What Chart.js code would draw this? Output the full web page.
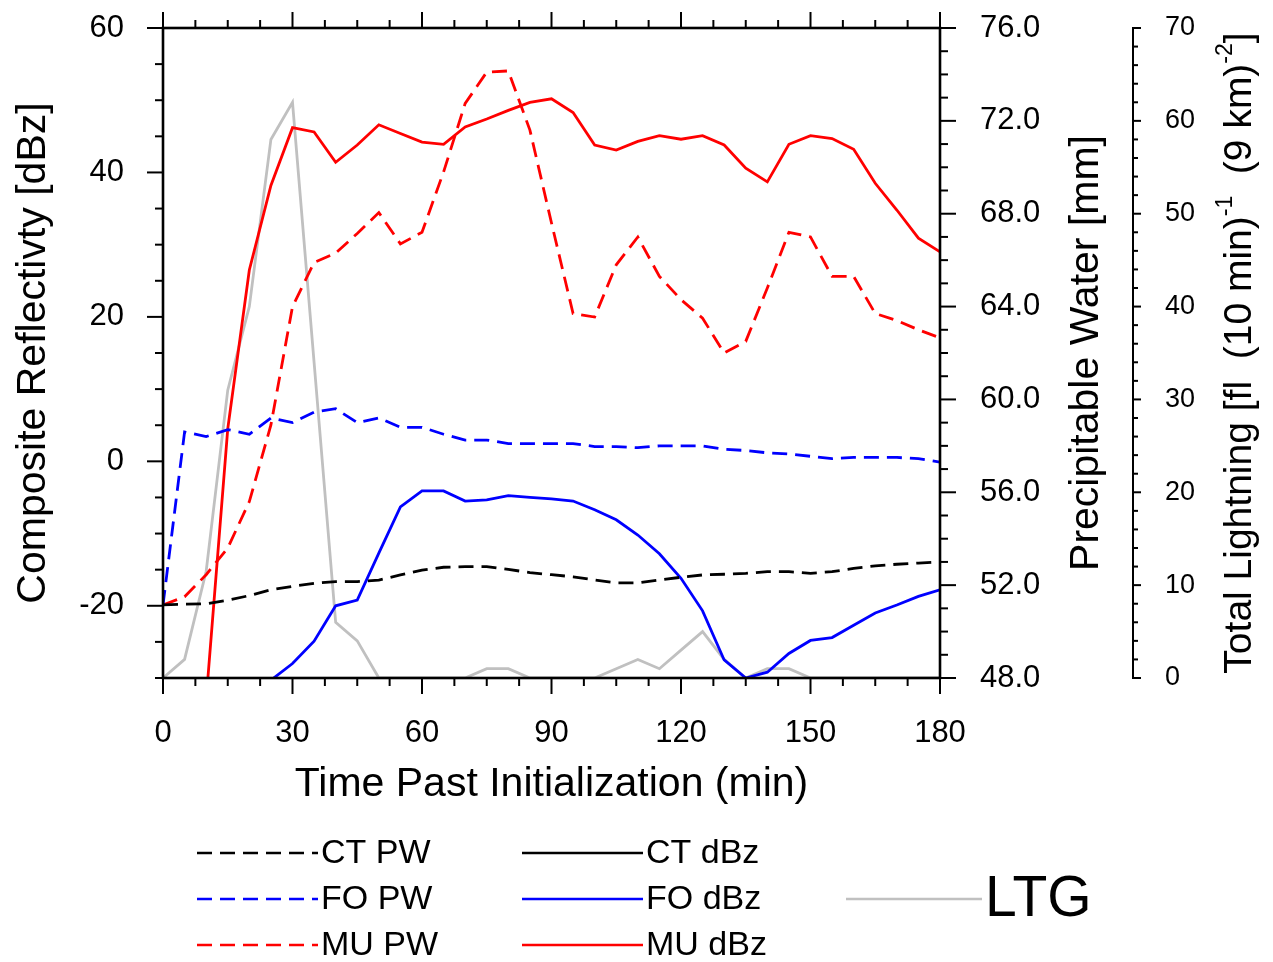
<!DOCTYPE html>
<html lang="en">

<head>
  <meta charset="utf-8">
  <title>Composite reflectivity, precipitable water and lightning</title>
  <script src="https://cdn.jsdelivr.net/npm/chart.js"></script>
  <style>
    body { margin: 0; background: #fff; }
    #wrap { width: 1273px; height: 962px; }
  </style>

  <script type="text/javascript">
    // minutes past initialization, every 5 min
    const times = [0, 5, 10, 15, 20, 25, 30, 35, 40, 45, 50, 55, 60, 65, 70, 75, 80, 85, 90,
      95, 100, 105, 110, 115, 120, 125, 130, 135, 140, 145, 150, 155, 160, 165, 170, 175, 180];

    // precipitable water [mm] (right axis)
    const ctPw = [51.15, 51.18, 51.2, 51.35, 51.55, 51.8, 51.95, 52.08, 52.15, 52.15, 52.22, 52.44, 52.65,
      52.77, 52.8, 52.8, 52.68, 52.54, 52.45, 52.36, 52.22, 52.1, 52.1, 52.22, 52.34, 52.44, 52.47,
      52.51, 52.58, 52.58, 52.51, 52.58, 52.72, 52.83, 52.9, 52.95, 53.0];
    const foPw = [51.15, 58.6, 58.4, 58.7, 58.5, 59.2, 59.0, 59.45, 59.6, 59.0, 59.2, 58.8, 58.8,
      58.5, 58.25, 58.25, 58.1, 58.1, 58.1, 58.1, 57.97, 57.97, 57.92, 58.0, 58.0, 58.0, 57.85,
      57.8, 57.7, 57.65, 57.55, 57.45, 57.5, 57.5, 57.5, 57.45, 57.3];
    const muPw = [51.15, 51.5, 52.45, 53.6, 55.6, 58.9, 64.0, 65.9, 66.3, 67.15, 68.05, 66.7, 67.2,
      69.8, 72.75, 74.1, 74.15, 71.6, 67.6, 63.7, 63.55, 65.8, 67.0, 65.3, 64.3, 63.5, 62.0,
      62.5, 64.8, 67.2, 67.0, 65.3, 65.3, 63.7, 63.4, 63.0, 62.65];

    // composite reflectivity [dBz] (left axis), null = below the plot
    const ctDbz = []; // stays under -30 dBz the whole run
    const foDbz = [null, null, null, null, null, -30.3, -28.0, -24.9, -20.0, -19.2, -12.7, -6.3, -4.1,
      -4.1, -5.5, -5.35, -4.75, -5.0, -5.2, -5.5, -6.7, -8.1, -10.2, -12.8, -16.2, -20.7, -27.5,
      -30.0, -29.2, -26.6, -24.8, -24.4, -22.7, -21.0, -19.9, -18.7, -17.8];
    const muDbz = [null, null, -33.0, 4.5, 26.5, 38.2, 46.2, 45.6, 41.4, 43.8, 46.6, 45.4, 44.2,
      43.9, 46.3, 47.4, 48.6, 49.7, 50.2, 48.3, 43.8, 43.1, 44.3, 45.1, 44.6, 45.1, 43.8,
      40.6, 38.7, 43.9, 45.1, 44.7, 43.2, 38.5, 34.8, 30.9, 29.0];

    // total lightning [fl (10 min)^-1 (9 km)^-2] (outer right axis)
    const ltg = [0, 2, 11.5, 31, 40, 58, 62, 34, 6, 4, 0, 0, 0, 0, 0, 1, 1, 0, 0, 0, 0, 1, 2, 1, 3, 5, 2,
      0, 1, 1, 0, 0, 0, 0, 0, 0, 0];

    // tick labels
    const timeTicks = [0, 30, 60, 90, 120, 150, 180];
    const dbzTicks = [-20, 0, 20, 40, 60];
    const pwTicks = [48, 52, 56, 60, 64, 68, 72, 76];
    const ltgTicks = [0, 10, 20, 30, 40, 50, 60, 70];

    const FONT = "'Liberation Sans', Arial, Helvetica, sans-serif";
    const DASH = [15, 8];

    function pts(arr) {
      return arr.map((v, i) => ({ x: times[i], y: v }));
    }

    function series(label, arr, color, dashed, axis) {
      return {
        label: label,
        data: pts(arr),
        borderColor: color,
        backgroundColor: color,
        borderWidth: 2.8,
        borderDash: dashed ? DASH : [],
        pointRadius: 0,
        tension: 0,
        yAxisID: axis,
        fill: false
      };
    }

    function fixedTicks(list) {
      return function (scale) {
        scale.ticks = list.map(v => ({ value: v }));
      };
    }

    // fixed box size, and no extra padding for the end labels
    function boxSize(w, h) {
      return function (s) {
        if (w) s.width = w;
        if (h) s.height = h;
        s.paddingTop = 0; s.paddingBottom = 0;
        s.paddingLeft = 0; s.paddingRight = 0;
      };
    }

    // frame, minor/major tick marks, third axis line, titles and legend
    const decor = {
      id: 'decor',
      afterDatasetsDraw(chart) {
        const { ctx, chartArea: a, scales } = chart;
        const sx = scales.x, sy = scales.y, spw = scales.yPW, sl = scales.yL;
        ctx.save();
        ctx.strokeStyle = '#000';
        ctx.lineCap = 'butt';
        const line = (x1, y1, x2, y2) => {
          ctx.beginPath(); ctx.moveTo(x1, y1); ctx.lineTo(x2, y2); ctx.stroke();
        };
        ctx.lineWidth = 2;
        for (let t = 0; t <= 180; t += 7.5) {
          const px = sx.getPixelForValue(t);
          const len = t % 30 === 0 ? 16 : 8;
          line(px, a.bottom, px, a.bottom + len);
          line(px, a.top, px, a.top - len);
        }
        for (let v = -30; v <= 60; v += 5) {
          const py = sy.getPixelForValue(v);
          line(a.left, py, a.left - (v % 20 === 0 ? 16 : 8), py);
        }
        for (let v = 48; v <= 76; v += 1) {
          const py = spw.getPixelForValue(v);
          line(a.right, py, a.right + ((v - 48) % 4 === 0 ? 16 : 8), py);
        }
        const lx = sl.left;
        for (let v = 0; v <= 70; v += 2) {
          const py = sl.getPixelForValue(v);
          line(lx, py, lx + (v % 10 === 0 ? 8 : 5), py);
        }
        line(lx, sl.getPixelForValue(0) + 1, lx, sl.getPixelForValue(70) - 1);
        ctx.lineWidth = 2.6;
        ctx.strokeRect(a.left, a.top, a.right - a.left, a.bottom - a.top);
        ctx.restore();
      },
      afterDraw(chart) {
        const { ctx, chartArea: a } = chart;
        const midY = (a.top + a.bottom) / 2;
        ctx.save();
        ctx.fillStyle = '#000';
        ctx.textBaseline = 'middle';

        // x title
        ctx.font = '41px ' + FONT;
        ctx.textAlign = 'center';
        ctx.fillText('Time Past Initialization (min)', (a.left + a.right) / 2, 785);

        // rotated y titles
        const vtitle = (text, x, size) => {
          ctx.save();
          ctx.translate(x, midY);
          ctx.rotate(-Math.PI / 2);
          ctx.font = size + 'px ' + FONT;
          ctx.textAlign = 'center';
          ctx.fillText(text, 0, 0);
          ctx.restore();
        };
        vtitle('Composite Reflectivty [dBz]', 34, 41);
        vtitle('Precipitable Water [mm]', 1087, 41);

        // lightning title with superscripts
        const parts = [
          ['Total Lightning [fl  (10 min)', false],
          ['-1', true],
          ['  (9 km)', false],
          ['-2', true],
          [']', false]
        ];
        const big = '39px ' + FONT, small = '23px ' + FONT;
        let total = 0;
        parts.forEach(p => { ctx.font = p[1] ? small : big; total += ctx.measureText(p[0]).width; });
        ctx.save();
        ctx.translate(1240, midY);
        ctx.rotate(-Math.PI / 2);
        ctx.textAlign = 'left';
        let cx = -total / 2;
        parts.forEach(p => {
          ctx.font = p[1] ? small : big;
          ctx.fillText(p[0], cx, p[1] ? -14 : 0);
          cx += ctx.measureText(p[0]).width;
        });
        ctx.restore();

        // legend
        const rows = [853, 899, 945];
        const entry = (ds, x1, x2, y, size) => {
          ctx.save();
          ctx.strokeStyle = ds.borderColor;
          ctx.lineWidth = 2.6;
          ctx.setLineDash(ds.borderDash);
          ctx.beginPath(); ctx.moveTo(x1, y); ctx.lineTo(x2, y); ctx.stroke();
          ctx.restore();
          ctx.font = size + 'px ' + FONT;
          ctx.textAlign = 'left';
          ctx.fillText(ds.label, x2 + 3, y + 1);
        };
        const ds = chart.data.datasets;
        entry(ds[0], 197, 318, rows[0], 34);
        entry(ds[1], 197, 318, rows[1], 34);
        entry(ds[2], 197, 318, rows[2], 34);
        entry(ds[3], 522, 643, rows[0], 34);
        entry(ds[4], 522, 643, rows[1], 34);
        entry(ds[5], 522, 643, rows[2], 34);
        entry(ds[6], 846, 982, rows[1], 57);
        ctx.restore();
      }
    };

    window.onload = function () {
      Chart.defaults.font.family = FONT;
      Chart.defaults.color = '#000';
      const ctx = document.getElementById('chart');
      const tickFont = { size: 31 };
      new Chart(ctx, {
        type: 'line',
        data: {
          datasets: [
            series('CT PW', ctPw, '#000000', true, 'yPW'),
            series('FO PW', foPw, '#0000ff', true, 'yPW'),
            series('MU PW', muPw, '#ff0000', true, 'yPW'),
            series('CT dBz', ctDbz, '#000000', false, 'y'),
            series('FO dBz', foDbz, '#0000ff', false, 'y'),
            series('MU dBz', muDbz, '#ff0000', false, 'y'),
            series('LTG', ltg, '#c0c0c0', false, 'yL')
          ]
        },
        options: {
          responsive: true,
          maintainAspectRatio: false,
          animation: false,
          layout: { padding: { top: 28, bottom: 164, left: 0, right: 0 } },
          plugins: { legend: { display: false }, tooltip: { enabled: false } },
          scales: {
            x: {
              type: 'linear', position: 'bottom', min: 0, max: 180,
              afterBuildTicks: fixedTicks(timeTicks),
              afterFit: boxSize(0, 120),
              grid: { display: false, drawTicks: false },
              border: { display: false },
              ticks: { font: tickFont, padding: 37, maxRotation: 0, autoSkip: false }
            },
            y: {
              type: 'linear', position: 'left', min: -30, max: 60,
              afterBuildTicks: fixedTicks(dbzTicks),
              afterFit: boxSize(163, 0),
              grid: { display: false, drawTicks: false },
              border: { display: false },
              ticks: { font: tickFont, padding: 39, autoSkip: false }
            },
            yPW: {
              type: 'linear', position: 'right', min: 48, max: 76, weight: 0,
              afterBuildTicks: fixedTicks(pwTicks),
              afterFit: boxSize(193, 0),
              grid: { display: false, drawTicks: false },
              border: { display: false },
              ticks: { font: tickFont, padding: 40, autoSkip: false, callback: v => v.toFixed(1) }
            },
            yL: {
              type: 'linear', position: 'right', min: 0, max: 70, weight: 1,
              afterBuildTicks: fixedTicks(ltgTicks),
              afterFit: boxSize(140, 0),
              grid: { display: false, drawTicks: false },
              border: { display: false },
              ticks: { font: { size: 27 }, padding: 32, autoSkip: false }
            }
          }
        },
        plugins: [decor]
      });
    };
  </script>
</head>

<body>
  <div id="wrap">
    <canvas id="chart"></canvas>
  </div>
</body>

</html>
